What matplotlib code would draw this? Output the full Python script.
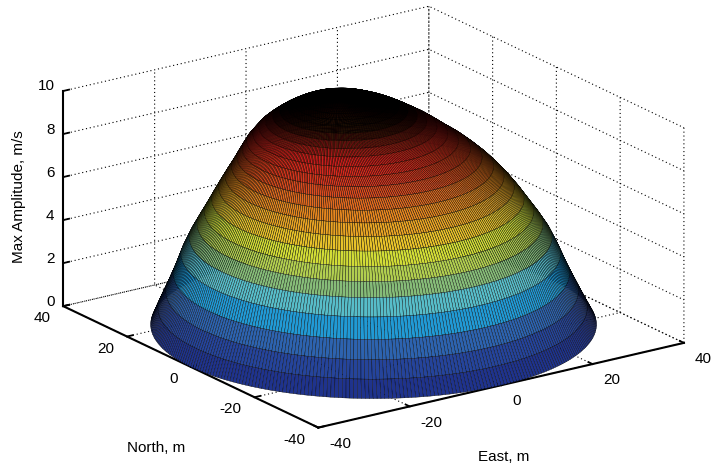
import numpy as np
import matplotlib
matplotlib.use("Agg")
import matplotlib.pyplot as plt
from matplotlib.colors import LinearSegmentedColormap
from mpl_toolkits.mplot3d import Axes3D

# rings of the dome, from the rim up to the crest
ring_radius = [40, 38.5, 37, 35.5, 34, 32.5, 31, 29.5, 28, 26.5, 25, 23.5, 22, 20.5,
               19, 17.5, 16, 14.5, 13, 11.5, 10, 8.5, 7, 5.5, 4, 2.5, 1, 0]
ring_height = [0, 0.75, 1.5, 2.3, 3.2, 3.95, 4.55, 5.1, 5.65, 6.15, 6.6, 7.0, 7.35, 7.65,
               7.9, 8.15, 8.4, 8.6, 8.8, 8.98, 9.14, 9.28, 9.4, 9.5, 9.58, 9.64, 9.67, 9.68]
ring_north = [0, 0.3, 0.6, 0.8, 1.0, 1.2, 1.4, 1.7, 2.2, 2.8, 3.5, 4.3, 5.4, 6.7,
              8.0, 9.0, 9.9, 10.6, 11.1, 11.6, 12.0, 12.4, 12.8, 13.1, 13.4, 13.7, 13.9, 14]
ring_east = [0, 0, 0.1, 0.1, 0.1, 0.2, 0.2, 0.2, 0.3, 0.4, 0.5, 0.6, 0.7, 0.9,
             1.0, 1.2, 1.3, 1.4, 1.5, 1.6, 1.7, 1.7, 1.8, 1.8, 1.9, 1.9, 2.0, 2]

x_ticks = [-40, -20, 0, 20, 40]
y_ticks = [-40, -20, 0, 20, 40]
z_ticks = [0, 2, 4, 6, 8, 10]

# colours sampled up the front of the dome, height / 10 -> colour
color_stops = [(0.0, (28, 45, 135)), (0.09, (35, 60, 150)), (0.19, (45, 100, 175)),
               (0.30, (30, 170, 225)), (0.36, (90, 190, 200)), (0.40, (110, 180, 140)),
               (0.46, (170, 200, 90)), (0.52, (190, 215, 60)), (0.55, (225, 225, 50)),
               (0.60, (235, 190, 40)), (0.69, (230, 130, 30)), (0.77, (220, 60, 30)),
               (0.82, (220, 30, 30)), (0.86, (150, 22, 22)), (0.885, (70, 10, 10)),
               (0.91, (10, 2, 2)), (1.0, (0, 0, 0))]
dome_cmap = LinearSegmentedColormap.from_list(
    'dome', [(p, tuple(c / 255 for c in rgb)) for p, rgb in color_stops])

plt.rcParams['font.family'] = ['Liberation Sans', 'DejaVu Sans']
plt.rcParams['font.size'] = 11
plt.rcParams['axes.unicode_minus'] = False
plt.rcParams['grid.color'] = 'black'
plt.rcParams['grid.linestyle'] = (0, (1, 2.5))
plt.rcParams['grid.linewidth'] = 0.8

# polar mesh, one degree per sector
theta = np.radians(np.arange(0, 361, 1))
rad = np.array(ring_radius)[:, None]
east = np.array(ring_east)[:, None] + rad * np.cos(theta)
north = np.array(ring_north)[:, None] + rad * np.sin(theta)
height = np.array(ring_height)[:, None] * np.ones_like(theta)

fig = plt.figure(figsize=(7.12, 4.67), dpi=100)
ax = fig.add_axes([29 / 712, -94.5 / 467, 671 / 712, 671 / 467], projection='3d')
ax.set_proj_type('ortho')
ax.set_box_aspect((1, 1, 0.5117), zoom=0.97)
ax.view_init(elev=19.4, azim=-124.9)

ax.plot_surface(east, north, height, rstride=1, cstride=1, cmap=dome_cmap, vmin=0, vmax=10,
                edgecolor='black', linewidth=0.25, antialiased=True, shade=False)

ax.set_xlim(-40, 40, view_margin=0)
ax.set_ylim(-40, 40, view_margin=0)
ax.set_zlim(0, 10, view_margin=0)
ax.set_xticks(x_ticks)
ax.set_yticks(y_ticks)
ax.set_zticks(z_ticks)

for axis in [ax.xaxis, ax.yaxis, ax.zaxis]:
    axis.set_pane_color((1, 1, 1, 0))
    axis.pane.set_edgecolor('none')
    axis.line.set_linewidth(1.5)
    axis.line.set_color('black')
    axis._axinfo['tick']['inward_factor'] = 0
    axis._axinfo['tick']['outward_factor'] = 0.2
    axis._axinfo['tick']['linewidth'] = {True: 1.3, False: 0.6}

ax.zaxis.set_ticks_position('upper')
ax.tick_params(axis='x', labelsize=11, pad=3)
ax.tick_params(axis='y', labelsize=11, pad=1)
ax.tick_params(axis='z', labelsize=11, pad=-4.5)
plt.setp(ax.get_xticklabels(), ha='left', va='center_baseline')
plt.setp(ax.get_yticklabels(), ha='right', va='center_baseline')
plt.setp(ax.get_zticklabels(), ha='right', va='baseline')

fig.text(504 / 712, 1 - 457 / 467, 'East, m', ha='center', va='center', fontsize=11)
fig.text(156 / 712, 1 - 448 / 467, 'North, m', ha='center', va='center', fontsize=11)
fig.text(19 / 712, 1 - 197 / 467, 'Max Amplitude, m/s', rotation=90, ha='center', va='center', fontsize=11)

fig.savefig('out.png', dpi=100)
